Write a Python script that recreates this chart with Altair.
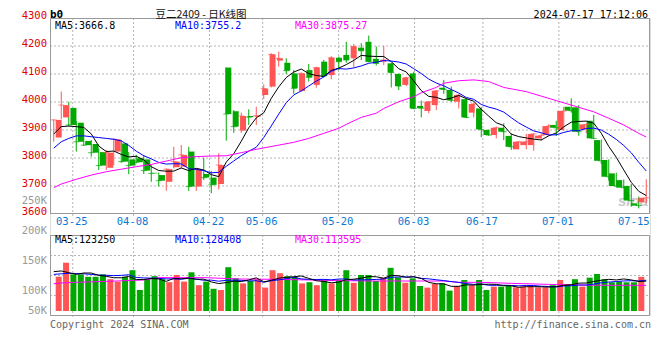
import altair as alt
import pandas as pd

# ---------------- data ----------------
dates = ["03-20","03-21","03-22","03-25","03-26","03-27","03-28","03-29","04-01","04-02",
         "04-03","04-08","04-09","04-10","04-11","04-12","04-15","04-16","04-17","04-18",
         "04-19","04-22","04-23","04-24","04-25","04-26","04-29","04-30","05-06","05-07",
         "05-08","05-09","05-10","05-13","05-14","05-15","05-16","05-17","05-20","05-21",
         "05-22","05-23","05-24","05-27","05-28","05-29","05-30","05-31","06-03","06-04",
         "06-05","06-06","06-07","06-11","06-12","06-13","06-14","06-17","06-18","06-19",
         "06-20","06-21","06-24","06-25","06-26","06-27","06-28","07-01","07-02","07-03",
         "07-04","07-05","07-08","07-09","07-10","07-11","07-12","07-15","07-16","07-17"]
opens = [3873,3945,3979,3926,3861,3850,3821,3765,3823,3852,
         3795,3799,3795,3747,3739,3715,3767,3769,3823,3698,
         3743,3730,3707,4123,3967,3898,3950,3948,4025,4055,
         4148,4140,4102,4039,4114,4061,4144,4096,4158,4168,
         4156,4194,4215,4154,4144,4138,4100,4061,4102,3986,
         3968,3989,4051,4043,4001,4010,3962,3977,3900,3882,
         3908,3879,3831,3846,3846,3870,3882,3918,3900,3983,
         3981,3902,3933,3864,3793,3745,3721,3700,3638,3642]
highs = [3938,4037,4001,3932,3904,3864,3834,3829,3870,3864,
         3821,3811,3811,3775,3748,3763,3840,3846,3840,3763,
         3801,3754,3817,4123,3971,3962,3974,3983,4063,4174,
         4180,4156,4114,4106,4136,4126,4150,4164,4162,4215,
         4207,4210,4237,4198,4200,4140,4102,4090,4108,4005,
         4003,4043,4079,4055,4027,4013,3998,3981,3902,3912,
         3924,3888,3860,3886,3888,3888,3921,3933,3983,4013,
         3989,3924,3954,3866,3795,3748,3723,3707,3662,3724]
lows = [3858,3938,3914,3823,3843,3805,3757,3757,3775,3783,
        3742,3781,3743,3715,3698,3683,3763,3763,3682,3682,
        3721,3674,3688,3862,3890,3890,3918,3918,4011,4052,
        4126,4100,4029,4037,4073,4051,4090,4081,4114,4140,
        4124,4150,4142,4130,4132,4052,4043,4057,3974,3945,
        3960,3971,4029,4000,3977,3942,3945,3874,3879,3870,
        3864,3829,3831,3831,3826,3862,3879,3879,3898,3962,
        3879,3888,3867,3779,3719,3698,3692,3626,3620,3638]
closes = [3936,3989,3918,3858,3846,3819,3773,3819,3867,3787,
          3773,3785,3755,3745,3719,3760,3787,3811,3698,3760,
          3730,3704,3775,3957,3912,3950,3946,3951,4048,4170,
          4156,4112,4049,4102,4088,4123,4093,4158,4144,4150,
          4198,4183,4144,4138,4150,4105,4057,4087,3977,3978,
          4001,4040,4045,4006,4025,3945,3993,3902,3882,3908,
          3894,3840,3858,3858,3886,3880,3914,3908,3968,3969,
          3894,3920,3870,3790,3733,3700,3694,3648,3630,3658]
volumes = [122200,145500,126000,126000,122000,122000,126000,118000,114000,122000,
           133000,100000,118000,123000,118000,113000,125000,114000,129500,108000,
           114000,102000,100000,138000,119500,111000,115000,118000,104000,133000,
           128000,123000,122000,111000,113000,108000,117000,111000,117000,133000,
           112000,125000,125000,115000,120600,137000,121000,112000,119400,106700,
           104000,110000,111000,99000,106700,116700,108000,116700,100000,105600,
           105600,106700,104400,105600,105600,104400,104400,108000,116700,110000,
           118000,105600,120600,126700,118000,112800,113900,112800,112800,122000]

# moving-average values at the left edge (they depend on earlier sessions)
ma5_head = [3886, 3912, 3914, 3912]
ma10_head = [3835, 3858, 3870, 3879, 3879, 3876, 3873, 3870, 3867]
ma30_idx = [0,1,3,5,7,9,11,13,15,17,19,21,23,25,27,30,32,34,36,38,39,41,43,44,46,48,49,51,52,54,
            56,58,60,63,65,67,69,72,74,76,78,79]
ma30_val = [3694,3707,3724,3739,3751,3760,3769,3777,3789,3801,3805,3807,3808,3819,3831,3846,3856,
            3870,3888,3906,3920,3945,3960,3977,4001,4019,4033,4052,4067,4076,4079,4073,4052,4037,
            4021,4005,3989,3965,3942,3918,3888,3875]
vma5_head = [130600, 131700, 128900, 126000]
vma10_head = [126000, 127000, 127800, 127500, 127000, 126000, 125000, 124500, 124000]
vma30_idx = [0,1,3,7,12,14,20,25,29,34,38,43,48,52,54,57,61,66,70,74,79]
vma30_val = [110500,111700,112800,114400,116700,120600,120600,118300,117800,116700,115600,
             115000,115000,115000,112800,112800,111100,109400,108300,107800,107800]

price_ticks = [4300, 4200, 4100, 4000, 3900, 3800, 3700, 3600]
price_grid = [4200, 4100, 4000, 3900, 3800, 3700]
vol_tick_vals = [250000, 200000, 150000, 100000]
vol_tick_text = ["250K", "200K", "150K", "100K"]
vol_base = 65000          # level the volume columns stand on (bottom of the columns)
date_labels = ["03-25","04-08","04-22","05-06","05-20","06-03","06-17","07-01","07-15"]

legend_main = ["MA5:3666.8", "MA10:3755.2", "MA30:3875.27"]
legend_vol = ["MA5:123250", "MA10:128408", "MA30:113595"]

# ---------------- tables ----------------
n = len(dates)
df = pd.DataFrame({"i": range(n), "date": dates, "open": opens, "high": highs,
                   "low": lows, "close": closes, "vol": volumes})
df["dir"] = ["up" if c >= o else "down" for o, c in zip(opens, closes)]
df["base"] = vol_base
ma5 = df["close"].rolling(5).mean()
ma5.iloc[:len(ma5_head)] = ma5_head
ma10 = df["close"].rolling(10).mean()
ma10.iloc[:len(ma10_head)] = ma10_head
df["ma5"] = ma5
df["ma10"] = ma10
vma5 = df["vol"].rolling(5).mean()
vma5.iloc[:len(vma5_head)] = vma5_head
vma10 = df["vol"].rolling(10).mean()
vma10.iloc[:len(vma10_head)] = vma10_head
df["vma5"] = vma5
df["vma10"] = vma10
ma30_df = pd.DataFrame({"i": ma30_idx, "v": ma30_val})
vma30_df = pd.DataFrame({"i": vma30_idx, "v": vma30_val})
lab_df = pd.DataFrame({"g": [dates.index(d) for d in date_labels], "t": date_labels})
grid_df = lab_df.iloc[:-1]
pt_df = pd.DataFrame({"p": price_ticks})
pg_df = pd.DataFrame({"p": price_grid})
vt_df = pd.DataFrame({"v": vol_tick_vals, "t": vol_tick_text})

# ---------------- styling / layout ----------------
W, H = 600, 297
MAIN_B = 196          # bottom of price panel (plot px)
VOL_T, VOL_B = 217, 297
RED, GREEN = "#ff5555", "#00a800"
GRID = "#b4b4b4"
BORDER = "#999999"
MONO = "DejaVu Sans Mono"

XC = alt.Scale(domain=[-0.5, n - 0.5], range=[0, W], nice=False, zero=False)
XG = alt.Scale(domain=[0, n - 1], range=[0, W], nice=False, zero=False)
YP = alt.Scale(domain=[3600, 4300], range=[MAIN_B, 0], nice=False, zero=False)
YV = alt.Scale(domain=[100000, 150000], range=[272, 242], nice=False, zero=False)
col = alt.Color("dir:N", scale=alt.Scale(domain=["up", "down"], range=[RED, GREEN]), legend=None)

def txt(text, x, y, **kw):
    return alt.Chart(pd.DataFrame({"t": [text]})).mark_text(**kw).encode(
        text="t:N", x=alt.value(x), y=alt.value(y))

one = pd.DataFrame({"k": [0]})
layers = []

# grid lines
layers.append(alt.Chart(grid_df).mark_rule(color=GRID, strokeDash=[2, 2], strokeWidth=1).encode(
    x=alt.X("g:Q", scale=XG, axis=None), y=alt.value(0), y2=alt.value(MAIN_B + 3)))
layers.append(alt.Chart(grid_df).mark_rule(color=GRID, strokeDash=[2, 2], strokeWidth=1).encode(
    x=alt.X("g:Q", scale=XG, axis=None), y=alt.value(VOL_T), y2=alt.value(VOL_B + 4)))
layers.append(alt.Chart(pg_df).mark_rule(color=GRID, strokeDash=[2, 2], strokeWidth=1).encode(
    y=alt.Y("p:Q", scale=YP, axis=None), x=alt.value(0), x2=alt.value(W)))
for gy in (VOL_T + 20.5, VOL_T + 40.5, VOL_T + 60.5):
    layers.append(alt.Chart(one).mark_rule(color=GRID, strokeDash=[2, 2], strokeWidth=1).encode(
        y=alt.value(gy), x=alt.value(0), x2=alt.value(W)))

# panel frames
layers.append(alt.Chart(one).mark_rect(fillOpacity=0, stroke=BORDER, strokeWidth=1).encode(
    x=alt.value(0.5), x2=alt.value(W - 0.5), y=alt.value(0.5), y2=alt.value(MAIN_B - 0.5)))
layers.append(alt.Chart(one).mark_rect(fillOpacity=0, stroke=BORDER, strokeWidth=1).encode(
    x=alt.value(0.5), x2=alt.value(W - 0.5), y=alt.value(VOL_T + 0.5), y2=alt.value(VOL_B + 0.5)))

# watermark
layers.append(txt("sina", 583, 183, font="Liberation Sans", fontSize=15, fontWeight="bold",
                  fontStyle="italic", color="#c8c8c8", align="center", baseline="middle"))

# candles
layers.append(alt.Chart(df).mark_rule(strokeWidth=1).encode(
    x=alt.X("i:Q", scale=XC, axis=None), y=alt.Y("low:Q", scale=YP, axis=None), y2="high:Q", color=col))
layers.append(alt.Chart(df).mark_bar(size=6).encode(
    x=alt.X("i:Q", scale=XC, axis=None), y=alt.Y("open:Q", scale=YP, axis=None), y2="close:Q", color=col))
layers.append(alt.Chart(df).mark_tick(orient="horizontal", size=6, thickness=1).encode(
    x=alt.X("i:Q", scale=XC, axis=None), y=alt.Y("close:Q", scale=YP, axis=None), color=col))

# price moving averages
layers.append(alt.Chart(df).mark_line(color="#000000", strokeWidth=1).encode(
    x=alt.X("i:Q", scale=XC, axis=None), y=alt.Y("ma5:Q", scale=YP, axis=None)))
layers.append(alt.Chart(df).mark_line(color="#0000ff", strokeWidth=1).encode(
    x=alt.X("i:Q", scale=XC, axis=None), y=alt.Y("ma10:Q", scale=YP, axis=None)))
layers.append(alt.Chart(ma30_df).mark_line(color="#ff00ff", strokeWidth=1).encode(
    x=alt.X("i:Q", scale=XC, axis=None), y=alt.Y("v:Q", scale=YP, axis=None)))

# volume bars and averages
layers.append(alt.Chart(df).mark_bar(size=6).encode(
    x=alt.X("i:Q", scale=XC, axis=None), y=alt.Y("vol:Q", scale=YV, axis=None),
    y2="base:Q", color=col))
layers.append(alt.Chart(vma30_df).mark_line(color="#ff00ff", strokeWidth=1).encode(
    x=alt.X("i:Q", scale=XC, axis=None), y=alt.Y("v:Q", scale=YV, axis=None)))
layers.append(alt.Chart(df).mark_line(color="#0000ff", strokeWidth=1).encode(
    x=alt.X("i:Q", scale=XC, axis=None), y=alt.Y("vma10:Q", scale=YV, axis=None)))
layers.append(alt.Chart(df).mark_line(color="#000000", strokeWidth=1).encode(
    x=alt.X("i:Q", scale=XC, axis=None), y=alt.Y("vma5:Q", scale=YV, axis=None)))

# axis labels
layers.append(alt.Chart(pt_df).mark_text(font=MONO, fontSize=10.5, align="right", baseline="middle",
                                          color="#e00000", dy=-2).encode(
    x=alt.value(-3), y=alt.Y("p:Q", scale=YP, axis=None), text=alt.Text("p:Q", format="d")))
layers.append(alt.Chart(vt_df).mark_text(font=MONO, fontSize=10.5, align="right", baseline="middle",
                                          color="#999999", dy=1).encode(
    x=alt.value(-3), y=alt.Y("v:Q", scale=YV, axis=None), text="t:N"))
layers.append(txt("50K", -3, VOL_B - 4, font=MONO, fontSize=10.5, align="right",
                  baseline="middle", color="#999999"))
layers.append(alt.Chart(lab_df).mark_text(font=MONO, fontSize=10.5, align="center", baseline="middle",
                                           color="#0a78d2", dx=-1).encode(
    x=alt.X("g:Q", scale=XG, axis=None), y=alt.value(MAIN_B + 7.5), text="t:N"))

# legends and titles
for k, (c, xx) in enumerate(zip(["#000000", "#0000ff", "#ff00ff"], [5, 125, 245])):
    layers.append(txt(legend_main[k], xx, 7.5, font=MONO, fontSize=10, align="left",
                      baseline="middle", color=c))
    layers.append(txt(legend_vol[k], xx, VOL_T + 4.5, font=MONO, fontSize=10, align="left",
                      baseline="middle", color=c))
layers.append(txt("b0", 0, -3.5, font=MONO, fontSize=11, fontWeight="bold", align="left",
                  baseline="middle", color="#000000"))
layers.append(txt("豆二2409 - 日K线图", 151, -3, font="Noto Sans CJK SC", fontSize=10.5,
                  align="center", baseline="middle", color="#111111"))
layers.append(txt("2024-07-17 17:12:06", 598, -3.5, font=MONO, fontSize=10, align="right",
                  baseline="middle", color="#000000"))
layers.append(txt("Copyright 2024 SINA.COM", 0, 307, font=MONO, fontSize=10, align="left",
                  baseline="middle", color="#666666"))
layers.append(txt("http://finance.sina.com.cn", 601, 307, font=MONO, fontSize=10, align="right",
                  baseline="middle", color="#666666"))

chart = alt.layer(*layers).resolve_scale(x="independent", y="independent").properties(
    width=W, height=H,
    autosize=alt.AutoSizeParams(type="none"),
    padding={"left": 42, "top": 10, "right": 2, "bottom": 22},
).configure_view(stroke=None).configure(background="white")

chart.save("out.html", embed_options={"renderer": "svg", "actions": False})
